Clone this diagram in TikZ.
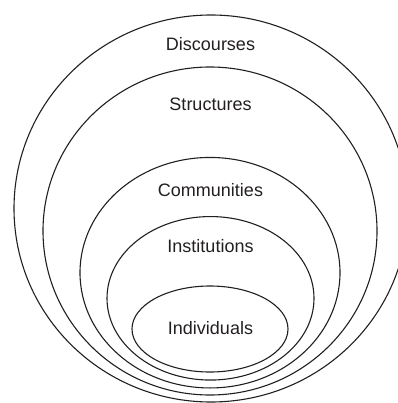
\documentclass[tikz,border=0pt]{standalone}
\usepackage{fontspec}
\setmainfont{Liberation Sans}
\usetikzlibrary{shapes.geometric}
\definecolor{ink}{HTML}{231F20}
\begin{document}
\begin{tikzpicture}[x=1pt,y=-1pt,
  ring/.style={ellipse,draw=ink,line width=1.1pt,inner sep=0pt,outer sep=0pt},
  lab/.style={text=ink,font=\fontsize{18}{20}\selectfont,inner sep=0pt}]
\useasboundingbox (0,0) rectangle (397,403);
\node[ring,minimum width=394pt,minimum height=387pt] (disc) at (211,208.5) {};
\node[ring,minimum width=334pt,minimum height=328pt] (struc) at (210,231) {};
\node[ring,minimum width=260pt,minimum height=230.5pt] (comm) at (210,272.7) {};
\node[ring,minimum width=207pt,minimum height=163.5pt] (inst) at (210.5,298.3) {};
\node[ring,minimum width=156pt,minimum height=86pt] (indiv) at (210,329) {};
\node[lab] (tdisc) at (210.5,44.5) {Discourses};
\node[lab] (tstruc) at (210.5,104) {Structures};
\node[lab] (tcomm) at (210.5,190.3) {Communities};
\node[lab] (tinst) at (210.5,246) {Institutions};
\node[lab] (tindiv) at (210.5,328) {Individuals};
\end{tikzpicture}
\end{document}
